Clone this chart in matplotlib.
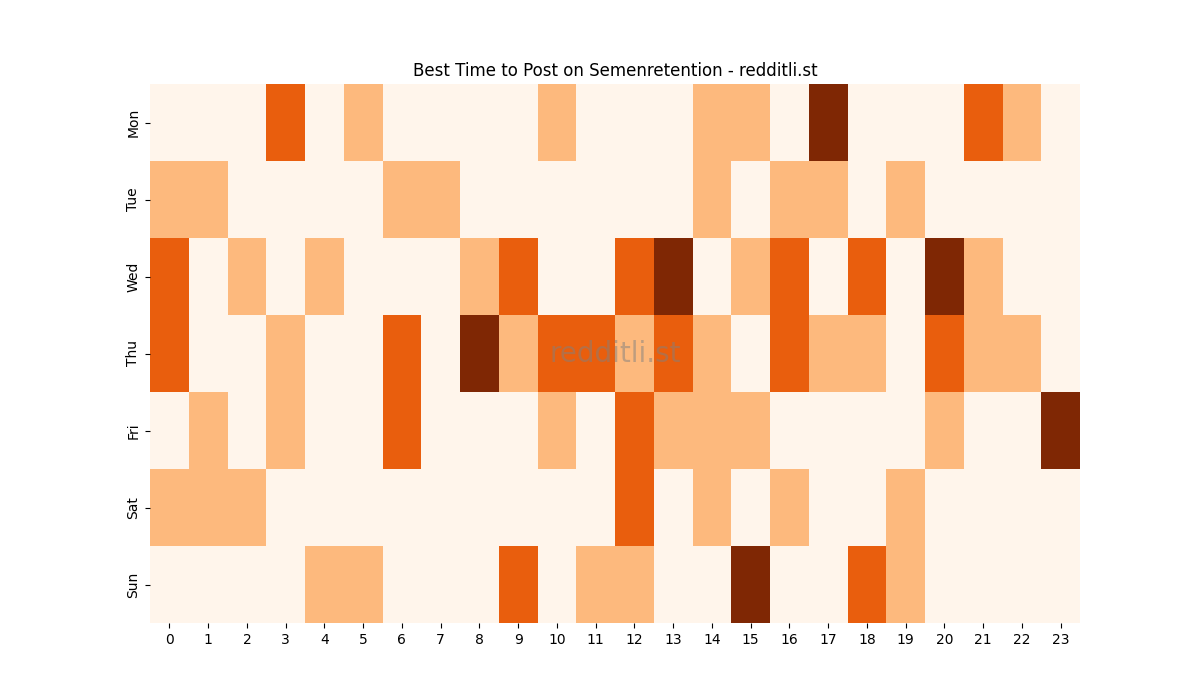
import matplotlib
matplotlib.use("Agg")
import matplotlib.pyplot as plt
import numpy as np
import seaborn as sns

days = ["Mon", "Tue", "Wed", "Thu", "Fri", "Sat", "Sun"]
hours = list(range(24))

# activity level per hour (0-3)
mon = [0, 0, 0, 2, 0, 1, 0, 0, 0, 0, 1, 0, 0, 0, 1, 1, 0, 3, 0, 0, 0, 2, 1, 0]
tue = [1, 1, 0, 0, 0, 0, 1, 1, 0, 0, 0, 0, 0, 0, 1, 0, 1, 1, 0, 1, 0, 0, 0, 0]
wed = [2, 0, 1, 0, 1, 0, 0, 0, 1, 2, 0, 0, 2, 3, 0, 1, 2, 0, 2, 0, 3, 1, 0, 0]
thu = [2, 0, 0, 1, 0, 0, 2, 0, 3, 1, 2, 2, 1, 2, 1, 0, 2, 1, 1, 0, 2, 1, 1, 0]
fri = [0, 1, 0, 1, 0, 0, 2, 0, 0, 0, 1, 0, 2, 1, 1, 1, 0, 0, 0, 0, 1, 0, 0, 3]
sat = [1, 1, 1, 0, 0, 0, 0, 0, 0, 0, 0, 0, 2, 0, 1, 0, 1, 0, 0, 1, 0, 0, 0, 0]
sun = [0, 0, 0, 0, 1, 1, 0, 0, 0, 2, 0, 1, 1, 0, 0, 3, 0, 0, 2, 1, 0, 0, 0, 0]

grid = np.array([mon, tue, wed, thu, fri, sat, sun])

fig = plt.figure(figsize=(12, 7), dpi=100)
ax = fig.add_subplot(111)
sns.heatmap(grid, cmap="Oranges", cbar=False, ax=ax,
            xticklabels=hours, yticklabels=days)
ax.set_yticklabels(days, rotation=90, va="center")
ax.set_xticklabels(hours, rotation=0)
ax.set_title("Best Time to Post on Semenretention - redditli.st")
ax.text(0.5, 0.5, "redditli.st", transform=ax.transAxes, fontsize=20,
        color="gray", alpha=0.5, ha="center", va="center")

plt.savefig("out.png")
plt.close()
